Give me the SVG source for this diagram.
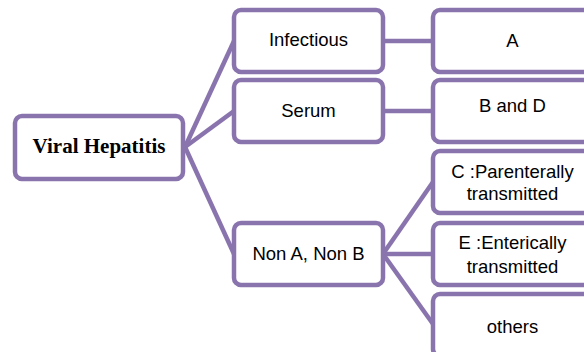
<svg xmlns="http://www.w3.org/2000/svg" width="584" height="352" viewBox="0 0 584 352">
<style>
.box{fill:#fff;stroke:#8A74AE;stroke-width:4.5}
.ln{stroke:#8A74AE;stroke-width:4.5;fill:none}
.t{font-family:"Liberation Sans",Arial,sans-serif;font-size:18.5px;fill:#000;text-anchor:middle}
.tb{font-family:"Liberation Serif","Times New Roman",serif;font-size:21px;font-weight:bold;fill:#000;text-anchor:middle}
</style>
<rect width="584" height="352" fill="#fff"/>
<g id="connectors">
<line class="ln" x1="185" y1="147" x2="234" y2="41"/>
<line class="ln" x1="185" y1="147" x2="234" y2="111"/>
<line class="ln" x1="185" y1="147" x2="234" y2="254"/>
<line class="ln" x1="383" y1="41" x2="433" y2="41"/>
<line class="ln" x1="383" y1="111" x2="433" y2="111"/>
<line class="ln" x1="383" y1="254" x2="433" y2="182"/>
<line class="ln" x1="383" y1="254" x2="433" y2="254"/>
<line class="ln" x1="383" y1="254" x2="433" y2="324"/>
</g>
<g id="viral">
<rect class="box" x="15" y="116" width="168" height="63" rx="7"/>
<text class="tb" x="99" y="153">Viral Hepatitis</text>
</g>
<g id="infectious">
<rect class="box" x="234" y="10" width="149" height="62" rx="7"/>
<text class="t" x="308.5" y="46">Infectious</text>
</g>
<g id="serum">
<rect class="box" x="234" y="80" width="149" height="62" rx="7"/>
<text class="t" x="308.5" y="117">Serum</text>
</g>
<g id="nonanonb">
<rect class="box" x="234" y="223" width="149" height="62" rx="7"/>
<text class="t" x="308.5" y="260">Non A, Non B</text>
</g>
<g id="a">
<rect class="box" x="433" y="10" width="159" height="62" rx="7"/>
<text class="t" x="512.5" y="46.5">A</text>
</g>
<g id="bd">
<rect class="box" x="433" y="80" width="159" height="62" rx="7"/>
<text class="t" x="512.5" y="112">B and D</text>
</g>
<g id="c">
<rect class="box" x="433" y="151" width="159" height="62" rx="7"/>
<text class="t" x="512.5" y="178">C :Parenterally</text>
<text class="t" x="512.5" y="200">transmitted</text>
</g>
<g id="e">
<rect class="box" x="433" y="223" width="159" height="62" rx="7"/>
<text class="t" x="512.5" y="249">E :Enterically</text>
<text class="t" x="512.5" y="272.5">transmitted</text>
</g>
<g id="others">
<rect class="box" x="433" y="294" width="159" height="62" rx="7"/>
<text class="t" x="512.5" y="332.5">others</text>
</g>
</svg>
